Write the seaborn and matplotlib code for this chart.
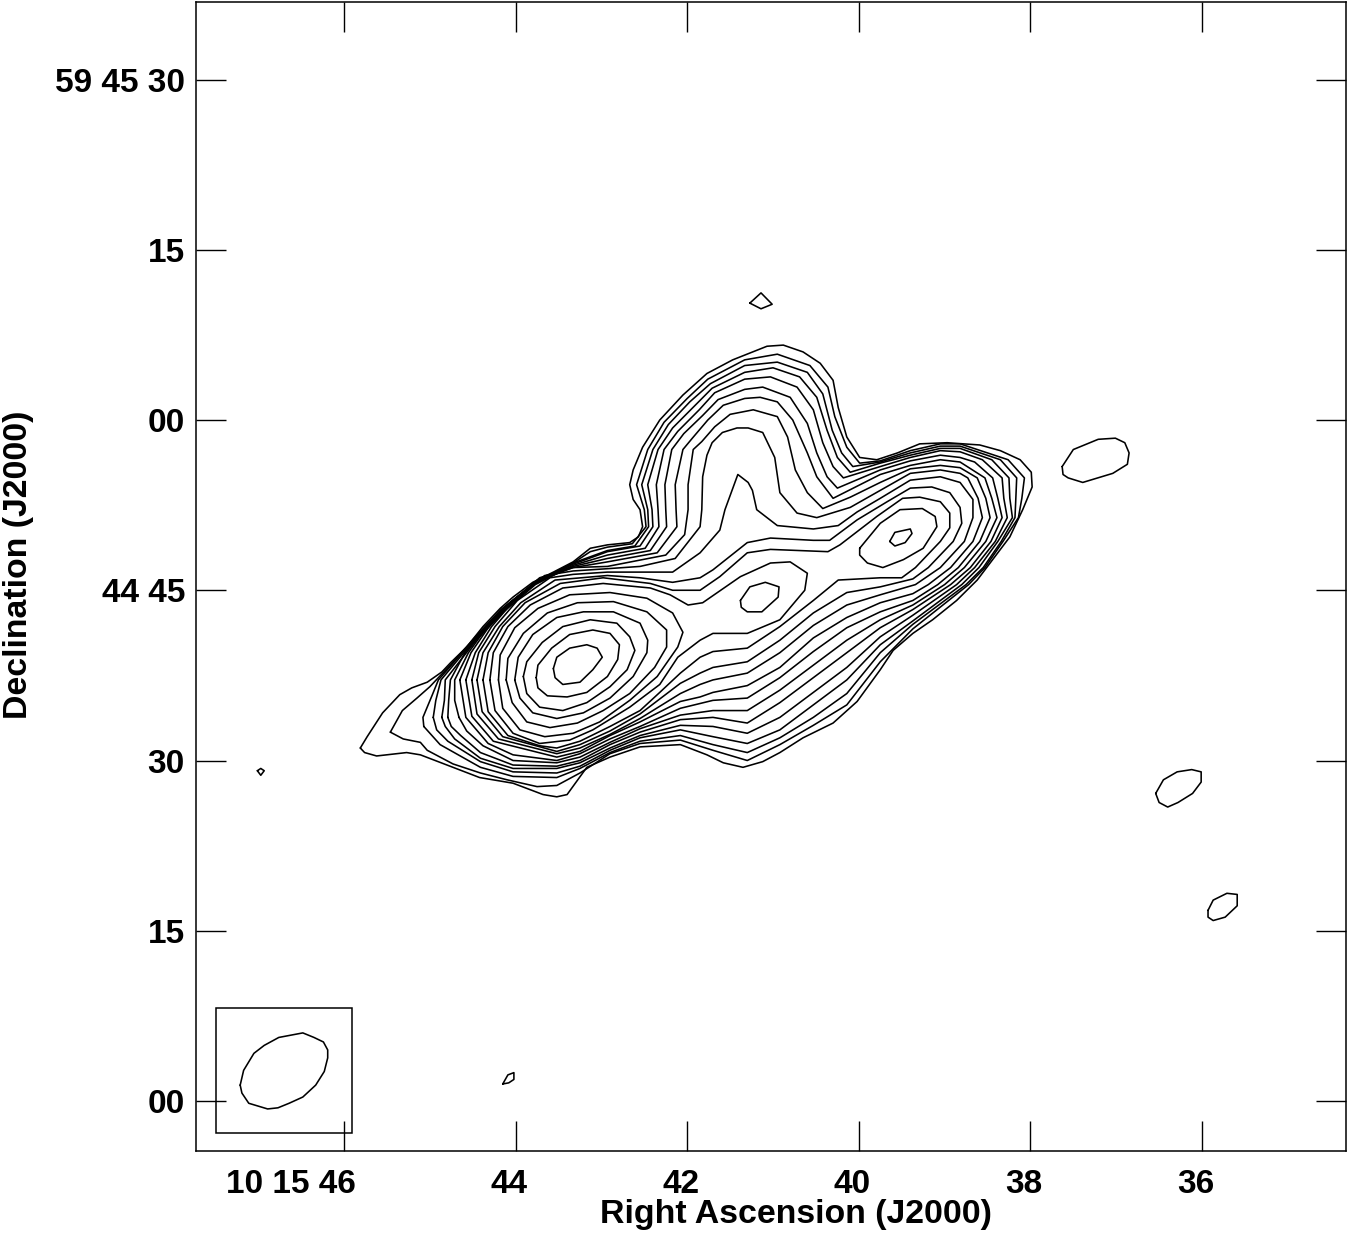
import matplotlib
matplotlib.use("Agg")
import matplotlib.pyplot as plt
from matplotlib.patches import Rectangle
from matplotlib.transforms import ScaledTranslation
import pandas as pd
import seaborn as sns

# Contour vertices as (RA seconds past 10 15 00, Dec arcsec past 59 44 00)
L01 = [(45.81,31.1),(45.73,32.1),(45.55,34.2),(45.35,35.8),(45.21,36.4),(45.03,36.9),(44.86,37.8),(44.76,38.6),(44.57,40.0),(44.38,41.8),(44.18,43.4),(44.03,44.4),(43.80,45.7),(43.56,46.6),(43.33,47.5),(43.13,48.7),(42.93,49.0),(42.67,49.2),(42.57,49.7),(42.52,50.6),(42.55,52.1),(42.63,53.0),(42.67,54.3),(42.63,55.6),(42.52,57.6),(42.32,60.0),(42.05,62.2),(41.77,64.1),(41.47,65.3),(41.07,66.5),(40.88,66.6),(40.65,66.0),(40.45,65.0),(40.30,63.5),(40.24,61.1),(40.14,58.5),(39.99,56.7),(39.79,56.5),(39.55,57.1),(39.29,57.9),(38.97,58.0),(38.59,57.8),(38.35,57.3),(38.12,56.5),(37.99,55.4),(37.98,54.1),(38.09,52.1),(38.24,49.7),(38.44,47.7),(38.62,45.9),(38.86,44.1),(39.14,42.4),(39.37,41.2),(39.60,39.7),(39.75,38.0),(40.02,35.2),(40.30,33.3),(40.65,32.0),(40.92,30.7),(41.12,29.9),(41.35,29.4),(41.58,29.8),(41.77,30.5),(42.08,31.4),(42.55,31.2),(42.90,30.3),(43.17,29.4),(43.40,27.0),(43.52,26.8),(43.68,27.0),(44.03,28.0),(44.42,28.5),(44.73,29.4),(45.11,30.5),(45.27,30.7),(45.62,30.4),(45.76,30.7)]
L02 = [(45.46,32.5),(45.32,34.4),(45.15,35.5),(45.00,36.5),(44.85,37.7),(44.75,38.5),(44.48,40.8),(44.17,43.3),(43.79,45.6),(43.33,47.4),(43.13,48.4),(42.93,48.8),(42.64,49.1),(42.48,50.6),(42.50,52.1),(42.59,54.3),(42.46,57.4),(42.27,59.8),(42.00,61.9),(41.76,63.6),(41.33,65.3),(40.95,65.8),(40.57,64.8),(40.36,62.9),(40.28,60.3),(40.14,57.6),(39.99,56.2),(39.75,56.4),(39.40,57.3),(39.05,57.9),(38.82,57.9),(38.26,56.5),(38.07,54.9),(38.10,53.1),(38.14,51.4),(38.32,49.3),(38.53,47.0),(38.72,45.5),(39.37,41.6),(39.75,38.7),(40.14,34.9),(40.53,33.1),(40.92,31.4),(41.30,30.0),(41.70,30.9),(42.08,31.8),(42.55,31.5),(42.90,30.6),(43.25,28.9),(43.52,27.8),(43.75,27.7),(44.10,28.3),(44.41,28.9),(44.73,29.7),(45.03,30.9),(45.11,31.6),(45.31,31.9)]
L03 = [(45.07,33.0),(45.08,33.8),(44.97,35.8),(44.90,37.1),(44.47,40.8),(44.16,43.3),(43.79,45.6),(43.33,47.4),(42.93,48.5),(42.61,48.9),(42.45,50.6),(42.46,52.1),(42.53,54.3),(42.40,57.4),(42.22,59.6),(41.97,61.6),(41.73,63.2),(41.33,64.8),(40.95,65.1),(40.60,64.2),(40.42,62.3),(40.31,59.1),(40.20,57.1),(40.07,55.9),(39.75,56.3),(39.40,57.1),(39.05,57.7),(38.82,57.7),(38.35,56.5),(38.16,54.9),(38.17,53.1),(38.18,51.4),(38.34,49.3),(38.55,47.0),(38.75,45.5),(39.37,42.0),(39.75,39.5),(40.14,35.9),(40.53,33.8),(40.92,32.0),(41.30,30.7),(41.70,31.4),(42.08,32.2),(42.55,31.7),(42.90,30.7),(43.25,29.3),(43.52,28.5),(44.03,28.6),(44.41,29.4),(44.88,31.4)]
L04 = [(44.96,33.8),(44.92,32.7),(44.79,31.7),(44.41,29.9),(44.03,29.0),(43.52,28.9),(43.25,29.5),(42.90,30.9),(42.55,32.0),(42.08,32.7),(41.70,32.1),(41.30,31.5),(40.92,32.7),(40.53,34.9),(40.14,37.1),(39.75,40.2),(39.37,42.3),(38.80,45.5),(38.60,47.0),(38.38,49.3),(38.21,51.4),(38.24,53.1),(38.25,54.9),(38.45,56.5),(38.82,57.5),(39.05,57.5),(39.40,56.9),(39.75,56.2),(40.10,55.4),(40.25,56.7),(40.37,59.1),(40.49,62.0),(40.69,63.8),(41.00,64.6),(41.33,64.2),(41.71,62.8),(41.92,61.2),(42.17,59.3),(42.34,57.4),(42.46,54.3),(42.41,52.1),(42.40,50.6),(42.55,48.9),(42.93,48.4),(43.33,47.3),(43.77,45.6),(44.15,43.2),(44.47,40.7),(44.87,37.1),(44.93,35.3)]
L05 = [(44.86,33.8),(44.82,33.0),(44.71,31.9),(44.41,30.2),(44.03,29.3),(43.52,29.3),(43.25,29.8),(42.90,31.1),(42.55,32.2),(42.08,33.1),(41.70,33.0),(41.30,32.4),(40.92,33.8),(40.53,36.0),(40.14,38.2),(39.75,40.9),(39.37,42.8),(38.86,45.5),(38.65,47.0),(38.41,49.3),(38.27,51.4),(38.31,53.1),(38.33,54.9),(38.56,56.5),(38.82,57.2),(39.05,57.3),(39.40,56.7),(39.75,55.9),(40.18,54.9),(40.30,55.9),(40.42,58.0),(40.53,60.9),(40.72,62.9),(41.03,63.8),(41.33,63.6),(41.68,62.4),(41.86,60.9),(42.11,59.0),(42.27,57.4),(42.36,54.3),(42.34,52.1),(42.33,50.6),(42.49,48.7),(42.93,48.1),(43.33,47.2),(43.77,45.5),(44.14,43.1),(44.46,40.6),(44.82,37.1),(44.83,35.3)]
L06 = [(44.79,33.8),(44.75,33.0),(44.64,32.2),(44.41,30.7),(44.03,29.6),(43.52,29.5),(43.25,30.0),(42.90,31.4),(42.55,32.5),(42.08,33.6),(41.70,33.8),(41.30,33.3),(40.92,35.1),(40.53,37.3),(40.14,39.5),(39.75,41.7),(39.37,43.3),(38.93,45.5),(38.70,47.0),(38.46,49.3),(38.33,51.4),(38.38,53.1),(38.44,54.9),(38.65,56.3),(38.82,56.7),(39.05,56.9),(39.40,56.4),(39.75,55.6),(40.25,54.0),(40.37,55.0),(40.49,57.1),(40.60,59.7),(40.80,62.0),(41.12,62.9),(41.33,62.7),(41.64,61.8),(41.82,60.4),(42.04,58.8),(42.18,57.4),(42.26,54.3),(42.25,52.1),(42.24,50.6),(42.43,48.5),(42.93,47.8),(43.33,47.1),(43.76,45.7),(44.10,43.7),(44.34,41.8),(44.59,39.5),(44.76,37.1),(44.78,35.3)]
L07 = [(44.66,33.8),(44.57,32.6),(44.38,31.3),(44.03,30.0),(43.52,29.8),(43.25,30.3),(42.90,31.6),(42.55,32.8),(42.08,34.0),(41.70,34.4),(41.30,34.4),(40.92,36.2),(40.53,38.4),(40.14,40.6),(39.75,42.4),(39.37,43.7),(39.00,45.5),(38.77,47.0),(38.52,49.3),(38.39,51.4),(38.45,53.1),(38.53,54.9),(38.82,56.3),(39.05,56.5),(39.40,56.0),(39.75,55.2),(40.30,53.1),(40.49,55.0),(40.60,57.1),(40.77,60.0),(40.95,61.6),(41.15,62.0),(41.33,61.9),(41.58,61.3),(41.76,60.0),(41.94,58.4),(42.05,57.4),(42.14,54.3),(42.13,52.1),(42.12,50.6),(42.35,48.3),(42.93,47.5),(43.33,47.0),(43.75,45.8),(44.08,43.8),(44.33,41.8),(44.55,39.5),(44.71,37.1),(44.71,35.3)]
L08 = [(44.65,37.1),(44.58,33.8),(44.32,31.5),(44.03,30.5),(43.52,30.0),(43.25,30.6),(42.90,31.9),(42.55,33.0),(42.08,34.6),(41.70,35.3),(41.30,35.5),(40.92,37.3),(40.53,39.6),(40.14,41.7),(39.75,43.1),(39.37,44.1),(39.08,45.5),(38.84,47.0),(38.59,49.3),(38.47,51.4),(38.52,53.1),(38.62,54.9),(38.82,55.8),(39.05,56.0),(39.40,55.7),(39.75,54.5),(40.10,53.2),(40.42,52.2),(40.60,53.6),(40.74,55.6),(40.83,58.5),(40.95,60.3),(41.23,60.9),(41.50,60.5),(41.68,59.4),(41.83,58.1),(41.93,57.4),(41.99,54.3),(41.99,52.1),(42.03,49.9),(42.25,48.1),(42.93,47.1),(43.33,47.0),(43.72,46.1),(44.05,43.9),(44.31,41.8),(44.52,39.5)]
L09 = [(44.58,37.1),(44.51,33.9),(44.26,31.7),(43.52,30.3),(43.25,30.8),(42.90,32.2),(42.55,33.4),(42.08,35.2),(41.85,35.6),(41.70,36.0),(41.30,36.6),(40.92,38.2),(40.53,40.8),(40.14,42.6),(39.75,43.9),(39.37,44.7),(39.19,45.5),(38.93,47.0),(38.67,49.3),(38.56,51.4),(38.61,53.1),(38.73,54.9),(38.82,55.3),(39.05,55.6),(39.40,55.3),(39.75,53.8),(40.10,52.3),(40.49,51.4),(40.72,51.8),(40.92,53.6),(40.98,56.7),(41.12,58.9),(41.29,59.3),(41.42,59.3),(41.59,58.9),(41.71,58.0),(41.77,56.9),(41.82,55.0),(41.83,52.1),(41.85,50.6),(42.14,47.8),(42.55,47.1),(42.93,46.9),(43.33,46.7),(43.66,46.3),(44.03,44.0),(44.28,41.8),(44.47,39.5)]
L10 = [(44.51,37.1),(44.45,34.1),(44.20,31.9),(43.52,30.6),(43.25,31.1),(42.90,32.3),(42.55,33.7),(42.08,35.9),(41.85,36.7),(41.70,37.1),(41.30,37.7),(40.92,39.5),(40.53,41.9),(40.14,43.7),(39.75,44.6),(39.34,45.5),(39.05,47.0),(38.77,49.3),(38.67,51.4),(38.67,53.0),(38.82,54.5),(39.05,55.0),(39.40,54.7),(39.75,53.1),(40.02,51.9),(40.24,50.7),(40.53,50.4),(40.95,50.7),(41.19,52.1),(41.24,53.8),(41.29,54.5),(41.41,55.2),(41.56,52.1),(41.62,50.3),(41.85,48.3),(42.17,46.6),(42.55,46.6),(42.93,46.6),(43.33,46.4),(43.60,46.1),(43.98,44.1),(44.24,41.8),(44.43,39.5)]
L11 = [(44.45,37.1),(44.39,34.3),(44.15,32.1),(43.52,30.8),(43.25,31.4),(42.90,32.6),(42.55,34.1),(42.08,36.8),(41.85,37.7),(41.70,38.2),(41.30,38.7),(40.92,40.6),(40.53,43.0),(40.14,44.8),(39.75,45.3),(39.37,46.0),(39.19,47.0),(38.90,49.3),(38.80,50.9),(38.82,52.3),(38.94,53.6),(39.15,54.1),(39.40,54.0),(39.67,52.8),(40.02,51.2),(40.34,49.4),(40.53,49.4),(41.03,49.6),(41.30,49.2),(41.70,46.8),(41.85,46.1),(42.17,45.7),(42.55,46.1),(42.93,46.3),(43.54,45.9),(43.94,43.9),(44.19,41.8),(44.38,39.5)]
L12 = [(44.38,37.1),(44.32,34.3),(44.09,32.2),(43.72,31.3),(43.52,31.1),(43.25,31.7),(42.90,33.0),(42.55,34.4),(42.32,36.0),(42.08,37.7),(41.85,39.1),(41.70,39.6),(41.30,39.9),(40.92,41.8),(40.53,44.1),(40.24,45.9),(39.75,46.1),(39.50,46.1),(39.34,47.0),(39.05,49.3),(38.94,50.5),(38.94,51.8),(39.05,52.8),(39.29,53.2),(39.49,53.1),(39.79,51.5),(40.22,49.0),(40.36,48.4),(41.03,48.6),(41.30,48.3),(41.62,46.2),(41.85,45.0),(42.17,45.0),(42.43,45.6),(42.98,46.1),(43.48,45.6),(43.89,43.9),(44.15,41.8),(44.32,39.5)]
L13_MAIN = [(44.30,37.1),(44.24,34.4),(44.03,32.4),(43.72,31.5),(43.37,31.8),(43.10,32.7),(42.67,34.7),(42.32,36.7),(42.11,39.1),(41.85,40.6),(41.70,41.2),(41.30,41.2),(40.92,42.4),(40.63,45.0),(40.60,46.5),(40.80,47.5),(41.03,47.4),(41.38,46.2),(41.82,43.9),(41.99,43.7),(42.20,44.6),(42.43,45.2),(42.98,45.6),(43.45,45.2),(43.83,43.7),(44.09,41.8),(44.26,39.5)]
L13_WEST = [(39.99,48.7),(39.75,50.9),(39.52,52.1),(39.26,52.2),(39.11,51.5),(39.09,50.6),(39.25,48.7),(39.48,47.7),(39.72,47.0),(39.90,47.4),(39.99,48.1)]
L14_WEST = [(39.64,49.3),(39.58,50.1),(39.40,50.4),(39.38,50.0),(39.46,49.2),(39.58,48.9)]
L14_MID = [(41.38,44.1),(41.27,45.3),(41.09,45.7),(40.93,45.3),(40.94,44.4),(41.13,43.1),(41.30,43.1),(41.37,43.5)]
L14_EAST = [(44.20,37.1),(44.18,39.3),(44.01,41.7),(43.74,43.4),(43.37,44.6),(42.90,44.8),(42.47,44.3),(42.17,43.0),(42.05,41.3),(42.11,40.0),(42.35,37.4),(42.67,35.3),(43.02,33.4),(43.33,32.4),(43.66,32.1),(43.95,32.7),(44.15,34.6)]
L15 = [(44.11,37.1),(44.09,39.0),(43.91,41.2),(43.63,43.0),(43.28,43.9),(42.86,44.0),(42.47,43.1),(42.24,41.5),(42.24,40.0),(42.38,38.2),(42.67,35.9),(42.98,34.4),(43.28,33.3),(43.60,32.9),(43.87,33.4),(44.04,35.1)]
L16 = [(44.01,37.1),(43.97,39.1),(43.80,41.1),(43.52,42.6),(43.21,43.1),(42.86,43.1),(42.55,42.1),(42.46,40.6),(42.47,39.5),(42.63,37.4),(42.90,35.5),(43.21,34.2),(43.52,33.7),(43.80,34.2),(43.95,35.5)]
L17 = [(43.91,37.4),(43.87,38.7),(43.69,40.4),(43.45,41.8),(43.13,42.4),(42.82,42.1),(42.67,40.9),(42.61,39.7),(42.70,38.0),(42.90,36.5),(43.17,35.1),(43.45,34.4),(43.72,34.7),(43.87,35.9)]
L18 = [(43.76,37.3),(43.74,38.4),(43.58,39.9),(43.37,41.1),(43.10,41.5),(42.90,41.2),(42.79,40.2),(42.81,38.9),(42.93,37.4),(43.17,36.0),(43.40,35.6),(43.63,35.7),(43.74,36.4)]
L19 = [(43.56,38.1),(43.52,39.1),(43.37,39.9),(43.17,40.2),(43.05,39.9),(42.99,39.1),(43.10,38.0),(43.25,36.9),(43.45,36.7),(43.54,37.3)]
ISLAND_A = [(37.63,55.9),(37.50,57.4),(37.21,58.3),(37.01,58.4),(36.90,58.0),(36.85,57.1),(36.87,56.1),(37.04,55.3),(37.39,54.5),(37.56,54.9),(37.62,55.2)]
ISLAND_B = [(36.54,27.1),(36.45,28.3),(36.29,29.0),(36.12,29.2),(36.01,29.0),(36.01,28.1),(36.11,27.1),(36.28,26.3),(36.40,25.9),(36.50,26.3)]
ISLAND_C = [(35.93,16.8),(35.87,17.7),(35.71,18.3),(35.59,18.2),(35.59,17.2),(35.73,16.2),(35.87,15.9),(35.93,16.2)]
ISLAND_D = [(41.27,70.3),(41.14,71.2),(41.01,70.2),(41.14,69.8)]
ISLAND_E = [(47.01,29.1),(46.97,29.3),(46.93,29.1),(46.97,28.7)]
ISLAND_F = [(44.15,1.5),(44.09,2.3),(44.02,2.5),(44.02,1.9),(44.08,1.6)]
BEAM = [(47.21,1.4),(47.17,2.7),(47.05,4.2),(46.93,4.9),(46.76,5.6),(46.48,6.0),(46.35,5.6),(46.24,5.2),(46.19,4.5),(46.19,3.8),(46.23,2.6),(46.33,1.4),(46.48,0.35),(46.64,-0.2),(46.77,-0.6),(46.89,-0.7),(47.11,-0.2),(47.19,0.7)]

RA_TICKS = [46, 44, 42, 40, 38, 36]
RA_LABELS = ["10 15 46", "44", "42", "40", "38", "36"]
DEC_TICKS = [90, 75, 60, 45, 30, 15, 0]
DEC_LABELS = ["59 45 30", "15", "00", "44 45", "30", "15", "00"]
RA_LIMITS = (47.725, 34.322)
DEC_LIMITS = (-4.405, 96.83)
BEAM_BOX_RA = (47.49, 45.91)
BEAM_BOX_DEC = (-2.82, 8.19)

contours = {
    "L01": L01, "L02": L02, "L03": L03, "L04": L04, "L05": L05, "L06": L06, "L07": L07,
    "L08": L08, "L09": L09, "L10": L10, "L11": L11, "L12": L12, "L13_MAIN": L13_MAIN,
    "L13_WEST": L13_WEST, "L14_WEST": L14_WEST, "L14_MID": L14_MID, "L14_EAST": L14_EAST,
    "L15": L15, "L16": L16, "L17": L17, "L18": L18, "L19": L19,
    "ISLAND_A": ISLAND_A, "ISLAND_B": ISLAND_B, "ISLAND_C": ISLAND_C, "ISLAND_D": ISLAND_D,
    "ISLAND_E": ISLAND_E, "ISLAND_F": ISLAND_F, "BEAM": BEAM,
}

rows = []
for name, ring in contours.items():
    for order, (ra, dec) in enumerate(ring + ring[:1]):
        rows.append({"contour": name, "order": order, "ra": ra, "dec": dec})
df = pd.DataFrame(rows)

sns.set_theme(style="white")
plt.rcParams["font.family"] = ["Liberation Sans", "DejaVu Sans"]
plt.rcParams["font.weight"] = "bold"

fig = plt.figure(figsize=(13.5, 12.35), dpi=100, facecolor="white")
ax = fig.add_axes([196 / 1350, 1 - 1151 / 1235, 1150 / 1350, 1149 / 1235])

sns.lineplot(data=df, x="ra", y="dec", units="contour", estimator=None, sort=False,
             color="black", linewidth=1.15, legend=False, ax=ax)

ax.add_patch(Rectangle((BEAM_BOX_RA[0], BEAM_BOX_DEC[0]),
                       BEAM_BOX_RA[1] - BEAM_BOX_RA[0], BEAM_BOX_DEC[1] - BEAM_BOX_DEC[0],
                       fill=False, edgecolor="black", linewidth=1.1))

ax.set_xlim(*RA_LIMITS)
ax.set_ylim(*DEC_LIMITS)
ax.set_xticks(RA_TICKS)
ax.set_xticklabels(RA_LABELS, fontsize=24, fontweight="bold", ha="right")
ax.set_yticks(DEC_TICKS)
ax.set_yticklabels(DEC_LABELS, fontsize=24, fontweight="bold")
ax.tick_params(axis="both", which="major", direction="in", length=21.6, width=1.0,
               top=True, right=True, left=True, bottom=True, color="black", labelcolor="black")
ax.tick_params(axis="x", pad=13)
ax.tick_params(axis="y", pad=8)
shift = ScaledTranslation(12 / 100, 0, fig.dpi_scale_trans)
for label in ax.get_xticklabels():
    label.set_transform(label.get_transform() + shift)

ax.set_xlabel("Right Ascension (J2000)", fontsize=24.4, fontweight="bold", color="black")
ax.set_ylabel("Declination (J2000)", fontsize=24.4, fontweight="bold", color="black")
ax.xaxis.set_label_coords((796 - 196) / 1150, -0.0415)
ax.yaxis.set_label_coords((34 - 196) / 1150, (1151 - 565) / 1149)
for spine in ax.spines.values():
    spine.set_visible(True)
    spine.set_color("black")
    spine.set_linewidth(1.1)

fig.savefig("out.png", dpi=100, facecolor="white")
